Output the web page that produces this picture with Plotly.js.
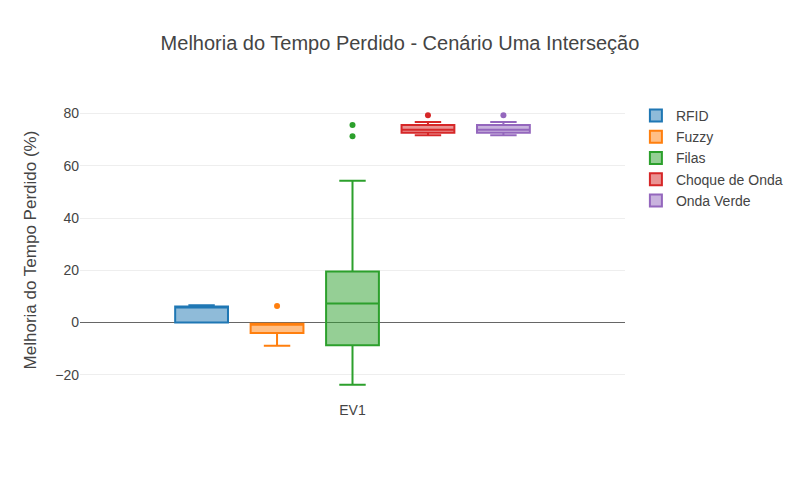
<!DOCTYPE html>
<html><head><meta charset="utf-8">
<script src="https://cdn.plot.ly/plotly-3.0.1.min.js"></script>
<style>body{margin:0}#c{width:800px;height:480px}</style>
</head><body><div id="c"></div>
<script>
var names = ["RFID", "Fuzzy", "Filas", "Choque de Onda", "Onda Verde"];
var category = ["EV1"];
var q1 = [0.0, -4.0, -8.7, 72.7, 72.7];
var median = [5.9, -0.5, 7.3, 73.8, 73.8];
var q3 = [6.1, -0.5, 19.5, 75.6, 75.6];
var lowerfence = [0.0, -8.9, -23.9, 71.7, 71.7];
var upperfence = [6.6, -0.5, 54.3, 76.8, 76.8];
var outliers = [[], [6.3], [75.6, 71.3], [79.4], [79.4]];

var traces = names.map(function(n, i){
  var t = {
    type: 'box', name: n, x: category,
    q1: [q1[i]], median: [median[i]], q3: [q3[i]],
    lowerfence: [lowerfence[i]], upperfence: [upperfence[i]],
    boxpoints: 'outliers'
  };
  if (outliers[i].length) t.y = [outliers[i]];
  return t;
});

var layout = {
  width: 800, height: 480,
  margin: {l: 80, r: 175, t: 100, b: 80},
  boxmode: 'group',
  font: {family: '"Liberation Sans", Arial, sans-serif', size: 14, color: '#444'},
  title: {text: 'Melhoria do Tempo Perdido - Cenário Uma Interseção', font: {size: 20}, x: 0.5, xref: 'container', y: 0.91, yref: 'container', yanchor: 'middle'},
  yaxis: {title: {text: 'Melhoria do Tempo Perdido (%)', font: {size: 17}}, range: [-29.7, 85.2], dtick: 20, zeroline: true, zerolinecolor: '#666', zerolinewidth: 1, gridcolor: '#eee'},
  xaxis: {type: 'category'},
  legend: {font: {size: 14}},
  showlegend: true
};
Plotly.newPlot('c', traces, layout, {displayModeBar: false});
</script></body></html>
